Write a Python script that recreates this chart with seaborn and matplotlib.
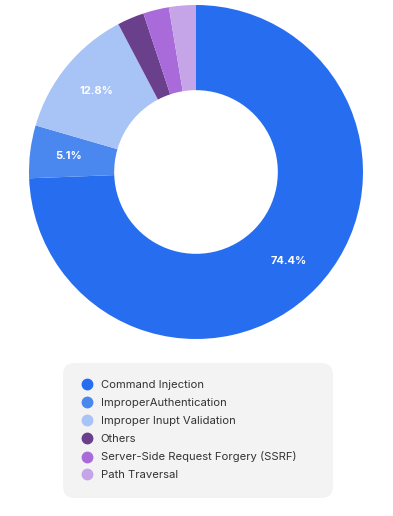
import matplotlib
matplotlib.use("Agg")
import matplotlib.pyplot as plt
from matplotlib.lines import Line2D
from matplotlib.patches import FancyBboxPatch
import numpy as np
import seaborn as sns

categories = ["Command Injection", "ImproperAuthentication", "Improper Inupt Validation",
              "Others", "Server-Side Request Forgery (SSRF)", "Path Traversal"]
values = [74.4, 5.1, 12.8, 2.6, 2.5, 2.6]
shown_labels = ["74.4%", "5.1%", "12.8%", "", "", ""]
colors = ["#276df0", "#4a87ee", "#a8c3f6", "#6a3f8c", "#a86bd9", "#c5a4e8"]

sns.set_theme(style="white")
plt.rcParams['font.family'] = ['Inter', 'DejaVu Sans']

fig = plt.figure(figsize=(3.93, 5.16), dpi=100)
fig.patch.set_facecolor("white")
ax = fig.add_axes([29/393, 1-339/516, 334/393, 334/516])

wedges, _ = ax.pie(values, colors=colors, startangle=90, counterclock=False,
                   wedgeprops=dict(width=0.51, linewidth=0))
total = sum(values)
cum = 0
for v, lab in zip(values, shown_labels):
    mid = 90 - (cum + v/2) / total * 360
    cum += v
    if lab:
        r = 0.77
        ax.text(r*np.cos(np.radians(mid)), r*np.sin(np.radians(mid)), lab,
                ha="center", va="center", color="white", fontsize=8, fontweight="bold")
ax.set_aspect("equal")
ax.set_xlim(-1, 1)
ax.set_ylim(-1, 1)
ax.axis("off")

# legend background
bg = FancyBboxPatch((63/393, 1-498/516), 270/393, 135/516,
                    boxstyle="round,pad=0,rounding_size=0.03",
                    transform=fig.transFigure, facecolor="#f3f3f3", edgecolor="none",
                    mutation_aspect=393/516)
fig.patches.append(bg)

handles = [Line2D([], [], marker="o", linestyle="none", markersize=7.5,
                  markerfacecolor=c, markeredgecolor=c) for c in colors]
leg = fig.legend(handles, categories, loc="upper left",
                 bbox_to_anchor=(81/393, 1-380/516), frameon=False,
                 fontsize=8.1, labelspacing=0.7, handletextpad=0.75,
                 borderpad=0, borderaxespad=0, handlelength=1.0)
for t in leg.get_texts():
    t.set_color("#333333")

fig.savefig("out.png", dpi=100)
